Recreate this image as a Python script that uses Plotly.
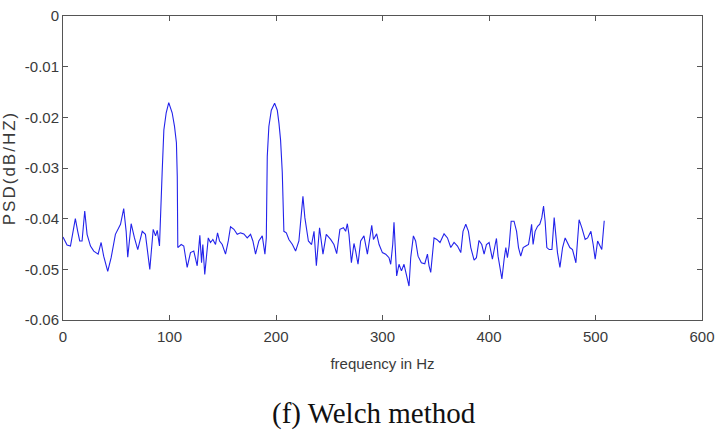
import plotly.graph_objects as go

freq_hz = [
    0.0, 3.8, 7.0, 9.5, 11.6, 13.8, 15.7, 17.9, 20.4, 22.6, 25.8, 28.9, 33.0, 35.8, 38.2,
    42.0, 45.2, 49.2, 54.0, 57.0, 59.3, 60.8, 64.0, 67.1, 70.2, 74.4, 77.4, 81.5, 84.7,
    86.9, 88.5, 90.6, 91.5, 93.1, 94.7, 96.9, 99.3, 102.5, 104.7, 106.5, 107.3, 107.8,
    111.0, 113.4, 116.6, 119.7, 122.8, 126.0, 128.5, 130.1, 131.3, 133.1, 136.4, 138.5,
    140.7, 143.2, 145.1, 147.0, 149.5, 152.6, 155.2, 157.3, 160.5, 163.6, 166.7, 169.8,
    173.0, 176.1, 178.3, 180.8, 183.9, 187.1, 189.6, 190.9, 191.2, 191.8, 193.3, 195.6,
    198.7, 201.2, 202.8, 204.3, 205.9, 207.4, 209.7, 212.1, 215.4, 218.4, 221.5, 224.1,
    225.3, 227.1, 230.4, 233.4, 235.7, 237.9, 240.9, 244.1, 247.2, 251.3, 254.4, 257.0,
    260.0, 263.3, 265.4, 267.0, 268.5, 270.8, 273.2, 274.8, 277.0, 279.5, 282.6, 285.8,
    288.2, 289.9, 291.5, 294.5, 296.8, 299.9, 303.0, 306.1, 307.7, 309.6, 310.8, 311.8,
    313.3, 315.5, 317.8, 320.2, 322.7, 324.9, 326.5, 329.0, 331.1, 333.4, 336.5, 339.7,
    342.2, 343.7, 345.3, 348.4, 351.0, 354.0, 357.8, 361.0, 364.1, 367.2, 370.4, 373.5,
    375.6, 378.2, 380.7, 382.9, 386.0, 388.2, 390.6, 393.2, 395.4, 397.6, 400.1, 401.7,
    403.2, 405.8, 407.0, 408.5, 410.1, 412.1, 414.2, 415.8, 417.3, 418.9, 420.8, 423.5,
    425.9, 427.7, 429.8, 432.1, 434.6, 437.1, 438.7, 440.0, 441.4, 443.3, 445.6, 447.7,
    449.6, 451.2, 452.7, 454.3, 456.5, 459.1, 461.2, 462.8, 464.3, 466.6, 469.1, 471.5,
    473.8, 475.9, 478.4, 481.6, 483.1, 484.6, 487.2, 490.3, 492.6, 495.7, 497.8, 499.7,
    502.0, 504.1, 505.9, 508.2,
]

psd_db_hz = [
    -0.0436, -0.0452, -0.0454, -0.0425, -0.0400, -0.0425, -0.0444, -0.0444, -0.0385,
    -0.0431, -0.0454, -0.0464, -0.0470, -0.0447, -0.0474, -0.0504, -0.0477, -0.0431,
    -0.0411, -0.0380, -0.0425, -0.0476, -0.0410, -0.0438, -0.0461, -0.0425, -0.0431,
    -0.0500, -0.0421, -0.0434, -0.0423, -0.0454, -0.0382, -0.0309, -0.0225, -0.0191,
    -0.0171, -0.0191, -0.0218, -0.0250, -0.0317, -0.0457, -0.0451, -0.0454, -0.0496,
    -0.0467, -0.0464, -0.0493, -0.0433, -0.0487, -0.0451, -0.0510, -0.0438, -0.0447,
    -0.0441, -0.0451, -0.0428, -0.0444, -0.0451, -0.0470, -0.0444, -0.0416, -0.0421,
    -0.0431, -0.0428, -0.0430, -0.0438, -0.0431, -0.0444, -0.0470, -0.0444, -0.0434,
    -0.0470, -0.0438, -0.0382, -0.0277, -0.0218, -0.0186, -0.0172, -0.0186, -0.0212,
    -0.0245, -0.0309, -0.0425, -0.0428, -0.0441, -0.0451, -0.0464, -0.0444, -0.0392,
    -0.0356, -0.0398, -0.0444, -0.0451, -0.0425, -0.0493, -0.0418, -0.0470, -0.0431,
    -0.0441, -0.0451, -0.0469, -0.0421, -0.0418, -0.0425, -0.0410, -0.0431, -0.0487,
    -0.0449, -0.0464, -0.0490, -0.0444, -0.0434, -0.0470, -0.0431, -0.0413, -0.0441,
    -0.0430, -0.0451, -0.0467, -0.0470, -0.0477, -0.0490, -0.0451, -0.0407, -0.0457,
    -0.0513, -0.0490, -0.0503, -0.0490, -0.0510, -0.0533, -0.0477, -0.0434, -0.0444,
    -0.0474, -0.0487, -0.0489, -0.0470, -0.0493, -0.0506, -0.0438, -0.0441, -0.0447,
    -0.0430, -0.0438, -0.0457, -0.0447, -0.0454, -0.0467, -0.0425, -0.0411, -0.0425,
    -0.0457, -0.0482, -0.0477, -0.0443, -0.0451, -0.0470, -0.0451, -0.0447, -0.0464,
    -0.0480, -0.0451, -0.0439, -0.0474, -0.0496, -0.0519, -0.0480, -0.0457, -0.0477,
    -0.0454, -0.0405, -0.0405, -0.0425, -0.0457, -0.0474, -0.0457, -0.0454, -0.0451,
    -0.0431, -0.0411, -0.0451, -0.0425, -0.0415, -0.0411, -0.0398, -0.0375, -0.0405,
    -0.0457, -0.0461, -0.0461, -0.0398, -0.0438, -0.0467, -0.0496, -0.0457, -0.0438,
    -0.0447, -0.0457, -0.0461, -0.0487, -0.0444, -0.0402, -0.0418, -0.0441, -0.0438,
    -0.0425, -0.0451, -0.0480, -0.0444, -0.0454, -0.0461, -0.0404,
]

x_tick_vals = [0, 100, 200, 300, 400, 500, 600]
x_tick_text = ["0", "100", "200", "300", "400", "500", "600"]
y_tick_vals = [0, -0.01, -0.02, -0.03, -0.04, -0.05, -0.06]
y_tick_text = ["0", "-0.01", "-0.02", "-0.03", "-0.04", "-0.05", "-0.06"]

x_title = "frequency in Hz"
y_title = "PSD(dB/HZ)"
caption = "(f) Welch method"

sans = "Liberation Sans, Arial, sans-serif"
axis_col = "#555555"
text_col = "#3a3a3a"

fig = go.Figure()
fig.add_trace(go.Scatter(
    x=freq_hz, y=psd_db_hz, mode="lines",
    line=dict(color="rgb(35,35,235)", width=1.1),
    showlegend=False, hoverinfo="x+y",
))

fig.update_layout(
    width=724, height=432,
    margin=dict(l=63, r=22, t=16, b=112, autoexpand=False),
    paper_bgcolor="white", plot_bgcolor="white",
    xaxis=dict(
        range=[0, 600], tickvals=x_tick_vals, ticktext=x_tick_text,
        ticks="inside", ticklen=5, tickwidth=1, tickcolor=axis_col,
        showline=True, linecolor=axis_col, linewidth=1, mirror="ticks",
        showgrid=False, zeroline=False,
        tickfont=dict(family=sans, size=15, color=text_col),
        ticklabelstandoff=3,
        title=dict(text=x_title, font=dict(family=sans, size=15, color=text_col), standoff=14),
        automargin=False,
    ),
    yaxis=dict(
        range=[-0.06, 0], tickvals=y_tick_vals, ticktext=y_tick_text,
        ticks="inside", ticklen=5, tickwidth=1, tickcolor=axis_col,
        showline=True, linecolor=axis_col, linewidth=1, mirror="ticks",
        showgrid=False, zeroline=False,
        tickfont=dict(family=sans, size=15, color=text_col),
        title=dict(
            text='<span style="letter-spacing:2px">' + y_title + '</span>',
            font=dict(family=sans, size=17, color=text_col),
            standoff=8,
        ),
        automargin=False,
    ),
    annotations=[dict(
        text=caption, xref="paper", yref="paper", x=0.486, y=-0.309,
        xanchor="center", yanchor="middle", showarrow=False,
        font=dict(family="Liberation Serif, Times New Roman, serif", size=29, color="#111111"),
    )],
)

fig.write_html("out.html")
